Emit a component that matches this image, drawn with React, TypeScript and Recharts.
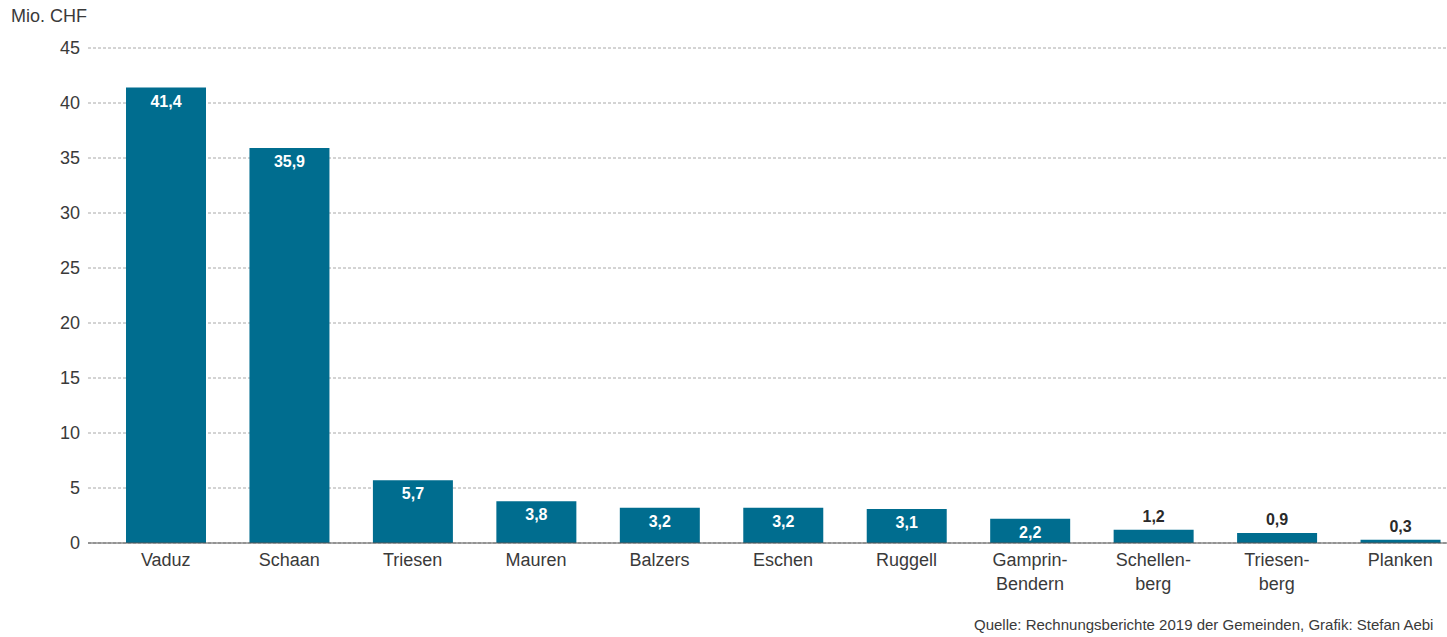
import React from 'react'
import { BarChart, Bar, XAxis, YAxis, CartesianGrid, LabelList } from 'recharts'

const gemeinden = ['Vaduz', 'Schaan', 'Triesen', 'Mauren', 'Balzers', 'Eschen', 'Ruggell', 'Gamprin-Bendern', 'Schellenberg', 'Triesenberg', 'Planken']
const tickLines: Record<string, string[]> = {
  'Gamprin-Bendern': ['Gamprin-', 'Bendern'],
  Schellenberg: ['Schellen-', 'berg'],
  Triesenberg: ['Triesen-', 'berg'],
}
const werte = [41.4, 35.9, 5.7, 3.8, 3.2, 3.2, 3.1, 2.2, 1.2, 0.9, 0.3]
const yTicks = [0, 5, 10, 15, 20, 25, 30, 35, 40, 45]

const FONT = '"Liberation Sans", Arial, sans-serif'
const BAR = '#006d8f'

const data = gemeinden.map((name, i) => ({ name, wert: werte[i] }))

function fmt(v: number) {
  return v.toFixed(1).replace('.', ',')
}

function XTick({ x, y, payload }: any) {
  const lines = tickLines[payload.value] || [payload.value]
  return (
    <text x={x} y={y + 15} textAnchor="middle" fill="#3a3a3a" fontSize={18} fontFamily={FONT}>
      {lines.map((l, i) => (
        <tspan key={i} x={x} dy={i === 0 ? 0 : 24}>{l}</tspan>
      ))}
    </text>
  )
}

function ValueLabel(props: any) {
  const { x, y, width, value } = props
  const inside = value >= 2
  return (
    <text
      x={x + width / 2}
      y={inside ? y + 19 : y - 8}
      textAnchor="middle"
      fill={inside ? '#ffffff' : '#2a2a2a'}
      fontSize={16}
      fontWeight={600}
      fontFamily={FONT}
    >
      {fmt(value)}
    </text>
  )
}

export default function App() {
  return (
    <div style={{ position: 'absolute', left: 0, top: 0, width: 1447, height: 637, overflow: 'hidden', background: '#fff' }}>
      <BarChart
        width={1462}
        height={637}
        data={data}
        margin={{ top: 48, right: 0, left: 0, bottom: 34 }}
      >
        <CartesianGrid vertical={false} stroke="#a8a8a8" strokeDasharray="3 2" />
        <XAxis
          dataKey="name"
          axisLine={{ stroke: '#555' }}
          tickLine={false}
          interval={0}
          height={60}
          padding={{ left: 16, right: 0 }}
          tick={<XTick />}
        />
        <YAxis
          domain={[0, 45]}
          ticks={yTicks}
          width={88}
          axisLine={false}
          tickLine={false}
          tick={{ fill: '#3a3a3a', fontSize: 18, fontFamily: FONT }}
        />
        <Bar dataKey="wert" fill={BAR} barSize={80} isAnimationActive={false}>
          <LabelList dataKey="wert" content={<ValueLabel />} />
        </Bar>
      </BarChart>
      <div
        style={{
          position: 'absolute', left: 974, top: 616, width: 470, whiteSpace: 'nowrap',
          fontSize: 15, lineHeight: '18px', color: '#3a3a3a', fontFamily: FONT,
        }}
      >
        Quelle: Rechnungsberichte 2019 der Gemeinden, Grafik: Stefan Aebi
      </div>
      <div
        style={{
          position: 'absolute', left: 11, top: 6, whiteSpace: 'nowrap',
          fontSize: 18, lineHeight: '20px', color: '#3a3a3a', fontFamily: FONT,
        }}
      >
        Mio. CHF
      </div>
    </div>
  )
}
